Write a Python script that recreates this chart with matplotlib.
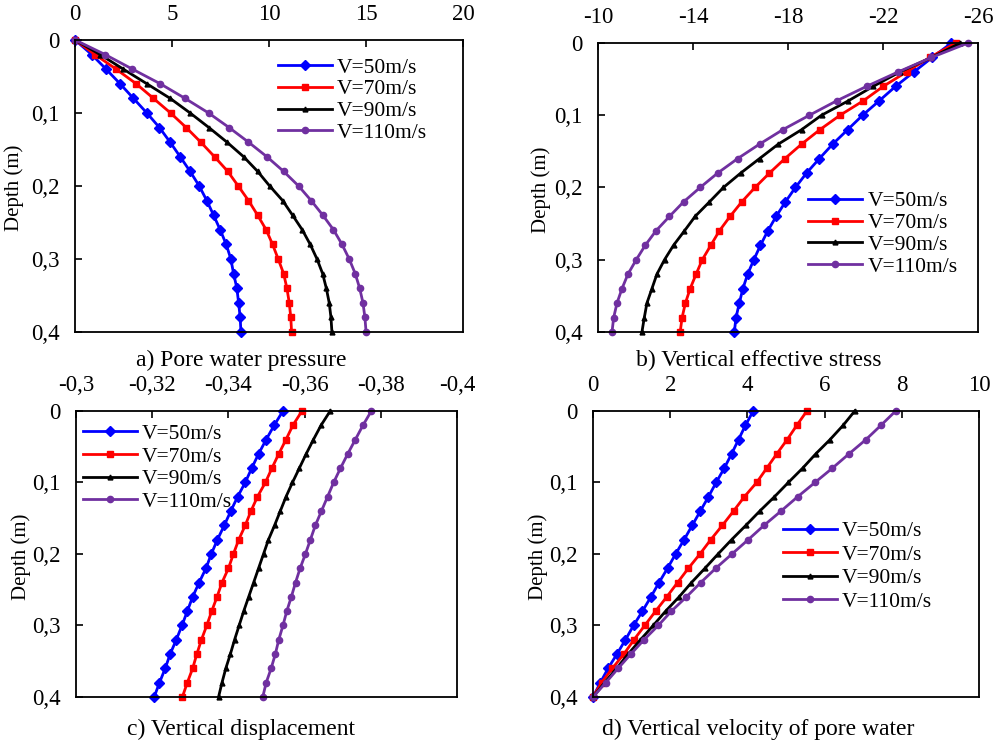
import numpy as np
import matplotlib
matplotlib.use("Agg")
import matplotlib.pyplot as plt
from matplotlib.ticker import FixedLocator, FuncFormatter

plt.rcParams['font.family'] = ['Liberation Serif', 'DejaVu Serif']
plt.rcParams['font.size'] = 15
plt.rcParams['axes.unicode_minus'] = False

depth = [0.00, 0.02, 0.04, 0.06, 0.08, 0.10, 0.12, 0.14, 0.16, 0.18, 0.20,
         0.22, 0.24, 0.26, 0.28, 0.30, 0.32, 0.34, 0.36, 0.38, 0.40]
labels = ['V=50m/s', 'V=70m/s', 'V=90m/s', 'V=110m/s']

# a) pore water pressure
pore_50 = [0, 0.86, 1.60, 2.32, 3.01, 3.70, 4.35, 4.90, 5.42, 5.93, 6.40,
           6.79, 7.14, 7.48, 7.79, 8.03, 8.17, 8.34, 8.43, 8.51, 8.55]
pore_70 = [0, 1.03, 2.12, 3.15, 4.04, 4.92, 5.73, 6.48, 7.19, 7.87, 8.41,
           8.94, 9.41, 9.85, 10.18, 10.47, 10.75, 10.92, 11.04, 11.12, 11.16]
pore_90 = [0, 1.29, 2.49, 3.70, 4.90, 5.93, 6.90, 7.83, 8.69, 9.41, 10.03,
           10.70, 11.21, 11.71, 12.12, 12.47, 12.76, 12.95, 13.10, 13.19, 13.24]
pore_110 = [0, 1.55, 2.96, 4.39, 5.67, 6.88, 7.94, 8.94, 9.89, 10.75, 11.52,
            12.17, 12.77, 13.32, 13.76, 14.13, 14.44, 14.67, 14.84, 14.94, 15.00]

# b) vertical effective stress
stress_50 = [-24.88, -24.07, -23.30, -22.53, -21.84, -21.14, -20.51, -19.88, -19.32, -18.78, -18.31,
             -17.89, -17.50, -17.15, -16.84, -16.56, -16.30, -16.10, -15.95, -15.81, -15.74]
stress_70 = [-25.06, -23.97, -22.99, -22.01, -21.17, -20.19, -19.34, -18.57, -17.87, -17.22, -16.61,
             -16.05, -15.56, -15.11, -14.75, -14.39, -14.13, -13.88, -13.68, -13.54, -13.46]
stress_90 = [-25.26, -24.04, -22.71, -21.59, -20.54, -19.41, -18.57, -17.59, -16.80, -16.01, -15.28,
             -14.69, -14.09, -13.64, -13.18, -12.80, -12.48, -12.27, -12.06, -11.95, -11.85]
stress_110 = [-25.58, -24.04, -22.64, -21.31, -20.05, -18.90, -17.78, -16.80, -15.88, -15.04, -14.30,
              -13.60, -13.01, -12.44, -11.99, -11.61, -11.26, -11.01, -10.80, -10.66, -10.59]

# c) vertical displacement
disp_50 = [-0.3543, -0.3520, -0.3499, -0.3479, -0.3461, -0.3444, -0.3424, -0.3406, -0.3389, -0.3371, -0.3355,
           -0.3341, -0.3323, -0.3306, -0.3292, -0.3278, -0.3263, -0.3247, -0.3234, -0.3219, -0.3205]
disp_70 = [-0.3593, -0.3569, -0.3551, -0.3532, -0.3514, -0.3497, -0.3476, -0.3459, -0.3444, -0.3427, -0.3413,
           -0.3400, -0.3383, -0.3370, -0.3356, -0.3343, -0.3329, -0.3317, -0.3306, -0.3292, -0.3279]
disp_90 = [-0.3667, -0.3643, -0.3623, -0.3604, -0.3586, -0.3568, -0.3551, -0.3536, -0.3521, -0.3505, -0.3492,
           -0.3479, -0.3466, -0.3453, -0.3440, -0.3428, -0.3416, -0.3405, -0.3393, -0.3383, -0.3374]
disp_110 = [-0.3775, -0.3753, -0.3733, -0.3713, -0.3694, -0.3676, -0.3660, -0.3644, -0.3628, -0.3615, -0.3602,
            -0.3588, -0.3576, -0.3565, -0.3553, -0.3543, -0.3532, -0.3523, -0.3512, -0.3499, -0.3490]

# d) vertical velocity of pore water
vel_50 = [4.15, 3.95, 3.77, 3.59, 3.40, 3.19, 2.99, 2.78, 2.57, 2.36, 2.14,
          1.93, 1.71, 1.50, 1.28, 1.05, 0.84, 0.62, 0.39, 0.19, 0]
vel_70 = [5.54, 5.28, 5.03, 4.76, 4.50, 4.24, 3.92, 3.64, 3.35, 3.05, 2.77,
          2.47, 2.19, 1.91, 1.62, 1.34, 1.06, 0.80, 0.50, 0.22, 0]
vel_90 = [6.78, 6.48, 6.14, 5.77, 5.43, 5.06, 4.70, 4.32, 3.96, 3.59, 3.24,
          2.90, 2.55, 2.23, 1.88, 1.56, 1.23, 0.91, 0.61, 0.30, 0]
vel_110 = [7.84, 7.46, 7.07, 6.63, 6.20, 5.75, 5.30, 4.87, 4.43, 4.02, 3.60,
           3.18, 2.79, 2.42, 2.03, 1.69, 1.32, 0.98, 0.65, 0.33, 0]

xticks_a = [0, 5, 10, 15, 20]
xticks_b = [-10, -14, -18, -22, -26]
xticks_c = [-0.30, -0.32, -0.34, -0.36, -0.38, -0.40]
xticks_d = [0, 2, 4, 6, 8, 10]
yticks = [0, 0.1, 0.2, 0.3, 0.4]

captions = ['a) Pore water pressure', 'b) Vertical effective stress',
            'c) Vertical displacement', 'd) Vertical velocity of pore water']

styles = [dict(color='#0000FF', marker='D', ms=5),
          dict(color='#FF0000', marker='s', ms=4.5),
          dict(color='#000000', marker='^', ms=3.5),
          dict(color='#7030A0', marker='o', ms=4.5)]

comma = FuncFormatter(lambda v, p: ('%g' % round(v, 4)).replace('.', ','))

fig = plt.figure(figsize=(9.98, 7.44), dpi=100)

panels = [
    dict(rect=[0.0752, 0.5538, 0.3888, 0.3925], series=[pore_50, pore_70, pore_90, pore_110],
         xlim=(0, 20), xticks=xticks_a, leg=(0.523, 0.94), sp=0.08,
         ylab=(0.014, 0.747), cap=(0.242, 0.516)),
    dict(rect=[0.5992, 0.5538, 0.3808, 0.3884], series=[stress_50, stress_70, stress_90, stress_110],
         xlim=(-10, -26), xticks=xticks_b, leg=(0.553, 0.487), sp=0.08,
         ylab=(0.542, 0.745), cap=(0.760, 0.516)),
    dict(rect=[0.0762, 0.0632, 0.3818, 0.3844], series=[disp_50, disp_70, disp_90, disp_110],
         xlim=(-0.30, -0.40), xticks=xticks_c, leg=(0.018, 0.955), sp=0.12,
         ylab=(0.021, 0.251), cap=(0.241, 0.020)),
    dict(rect=[0.5942, 0.0632, 0.3868, 0.3844], series=[vel_50, vel_70, vel_90, vel_110],
         xlim=(0, 10), xticks=xticks_d, leg=(0.492, 0.614), sp=0.16,
         ylab=(0.539, 0.251), cap=(0.760, 0.020)),
]

for p, cap in zip(panels, captions):
    ax = fig.add_axes(p['rect'])
    for vals, st, lab in zip(p['series'], styles, labels):
        ax.plot(vals, depth, lw=2, label=lab, color=st['color'], marker=st['marker'],
                ms=st['ms'], mec=st['color'], clip_on=False)
    ax.set_xlim(*p['xlim'])
    ax.set_ylim(0.4, 0)
    ax.xaxis.set_major_locator(FixedLocator(p['xticks']))
    ax.yaxis.set_major_locator(FixedLocator(yticks))
    ax.xaxis.set_major_formatter(comma)
    ax.yaxis.set_major_formatter(comma)
    ax.xaxis.tick_top()
    ax.tick_params(axis='x', direction='in', length=5, width=1.2, pad=11, labelsize=16.5)
    ax.tick_params(axis='y', direction='in', length=5, width=1.2, pad=11, labelsize=16.5)
    for s in ax.spines.values():
        s.set_linewidth(1.3)
    ax.legend(loc='upper left', bbox_to_anchor=p['leg'], frameon=False, fontsize=15.5,
              borderpad=0, borderaxespad=0, handlelength=2.5, handletextpad=0.25,
              labelspacing=p['sp'])
    fig.text(p['ylab'][0], p['ylab'][1], 'Depth (m)', rotation=90, ha='center', va='center', fontsize=15)
    fig.text(p['cap'][0], p['cap'][1], cap, ha='center', va='center', fontsize=17)

fig.savefig('out.png', dpi=100)
